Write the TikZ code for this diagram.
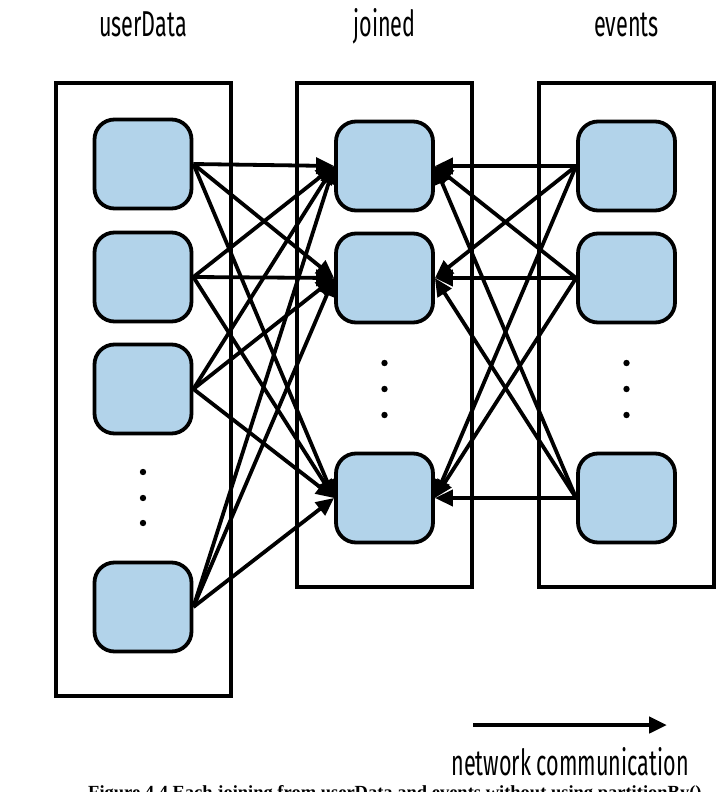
\documentclass[tikz,border=0pt]{standalone}
\usepackage{fontspec}
\usepackage{xcolor}
\usetikzlibrary{arrows.meta}
\newfontfamily\labelfont[FakeStretch=0.6]{Fira Sans}
\newfontfamily\capfont{Liberation Serif}
\definecolor{cellblue}{RGB}{178,211,234}

\begin{document}
\begin{tikzpicture}[x=1pt, y=-1pt]
        % ================= 样式定义 =================
        \tikzset{
            % 分区:浅蓝圆角块
            part/.style={rectangle, rounded corners=20pt, draw=black, line width=3.8pt, fill=cellblue,
                         minimum width=97pt, minimum height=89pt, inner sep=0pt},
            % RDD 外框
            rdd/.style={rectangle, draw=black, line width=3.8pt, inner sep=0pt},
            % 网络传输箭头
            comm/.style={line width=3.8pt, -{Triangle[length=18pt, width=16pt]}},
            % 标题文字
            title/.style={font=\labelfont\fontsize{36}{36}\selectfont, anchor=base}
        }
        \useasboundingbox (0,0) rectangle (720,792);

        % ================= 1. 外框 =================
        \node[rdd, minimum width=175pt, minimum height=613pt] (userbox)   at (143.5, 389.5) {};
        \node[rdd, minimum width=175pt, minimum height=504pt] (joinbox)   at (384.5, 335) {};
        \node[rdd, minimum width=175pt, minimum height=504pt] (eventbox)  at (626.5, 335) {};

        % ================= 2. 分区 =================
        % userData 的 4 个分区
        \node[part] (u1) at (143, 164) {};
        \node[part] (u2) at (143, 277) {};
        \node[part] (u3) at (143, 389) {};
        \node[part] (u4) at (143, 607) {};

        % joined 的 3 个分区
        \node[part] (j1) at (384.5, 166) {};
        \node[part] (j2) at (384.5, 278) {};
        \node[part] (j3) at (384.5, 498) {};

        % events 的 3 个分区
        \node[part] (e1) at (626.5, 166) {};
        \node[part] (e2) at (626.5, 278) {};
        \node[part] (e3) at (626.5, 498) {};

        % 省略号
        \foreach \y in {472, 498, 523} \fill (143, \y) circle (3.2pt);
        \foreach \y in {363, 389, 415} {
            \fill (384.5, \y) circle (3.2pt);
            \fill (626.5, \y) circle (3.2pt);
        }

        % ================= 3. 绘制边 =================
        \foreach \s in {u1,u2,u3,u4}
            \foreach \t in {j1,j2,j3} \draw[comm] (\s.east) -- (\t.west);
        \foreach \s in {e1,e2,e3}
            \foreach \t in {j1,j2,j3} \draw[comm] (\s.west) -- (\t.east);

        % ================= 4. 文字 =================
        \node[title] (userlbl)  at (143, 37) {userData};
        \node[title] (joinlbl)  at (384.5, 37) {joined};
        \node[title] (eventlbl) at (626.5, 37) {events};

        % 图例箭头
        \coordinate (netstart) at (473, 725);
        \coordinate (netend)   at (667, 725);
        \draw[comm, line width=4.8pt] (netstart) -- (netend);
        \node[title] (netlbl) at (570, 775) {network communication};

        % 图注(下半被裁掉,同原图)
        \node[anchor=base west, inner sep=0pt, font=\capfont\bfseries\fontsize{18.5}{18.5}\selectfont] (caption)
            at (88, 798) {Figure 4.4 Each joining from userData and events without using partitionBy()};

    \end{tikzpicture}
\end{document}
